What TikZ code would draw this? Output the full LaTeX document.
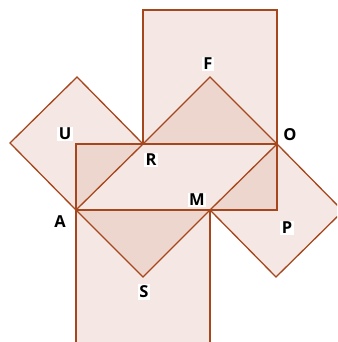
\documentclass[tikz,border=0pt]{standalone}
\usepackage{fontspec}
\setmainfont{Open Sans}
\definecolor{edge}{RGB}{166,70,28}
\definecolor{lightf}{RGB}{245,232,228}
\definecolor{darkf}{RGB}{236,214,206}
\tikzset{
  sqfill/.style={fill=lightf},
  tri/.style={fill=darkf},
  edgeline/.style={draw=edge,line width=1.3pt,line join=miter},
  lbl/.style={fill=white,inner sep=1.5pt,font=\fontsize{16.5}{17}\selectfont\bfseries,text=black}
}
\begin{document}
\begin{tikzpicture}[x=1pt,y=-1pt]
\useasboundingbox (0,0) rectangle (337,342);
\clip (0,0) rectangle (337,342);
\coordinate (A) at (76,210);
\coordinate (M) at (210,210);
\coordinate (R) at (143,144);
\coordinate (O) at (277,144);
\coordinate (F) at (210,77);
\coordinate (S) at (143,277);
\coordinate (K) at (76,144);
\coordinate (L) at (277,210);
% squares
\fill[sqfill] (A) -- (R) -- (77,77) -- (10,143) -- cycle;
\fill[sqfill] (R) -- (O) -- (277,10) -- (143,10) -- cycle;
\fill[sqfill] (A) -- (M) -- (210,344) -- (76,344) -- cycle;
\fill[sqfill] (M) -- (O) -- (343,211) -- (276,277) -- cycle;
\fill[sqfill] (K) rectangle (L);
% dark triangles
\fill[tri] (A) -- (R) -- (K) -- cycle;
\fill[tri] (R) -- (F) -- (O) -- cycle;
\fill[tri] (A) -- (S) -- (M) -- cycle;
\fill[tri] (M) -- (O) -- (L) -- cycle;
% outlines
\draw[edgeline] (A) -- (R) -- (77,77) -- (10,143) -- cycle;
\draw[edgeline] (R) -- (O) -- (277,10) -- (143,10) -- cycle;
\draw[edgeline] (A) -- (M) -- (210,344) -- (76,344) -- cycle;
\draw[edgeline] (M) -- (O) -- (343,211) -- (276,277) -- cycle;
\draw[edgeline] (K) rectangle (L);
\draw[edgeline] (R) -- (F) -- (O);
\draw[edgeline] (A) -- (S) -- (M);
% labels
\node[lbl] (lF) at (208,64) {F};
\node[lbl] (lO) at (290,135) {O};
\node[lbl] (lR) at (151,160) {R};
\node[lbl] (lU) at (65,134) {U};
\node[lbl] (lA) at (60,222) {A};
\node[lbl] (lM) at (197,200) {M};
\node[lbl] (lS) at (144,292) {S};
\node[lbl] (lP) at (287,228) {P};
\end{tikzpicture}
\end{document}
